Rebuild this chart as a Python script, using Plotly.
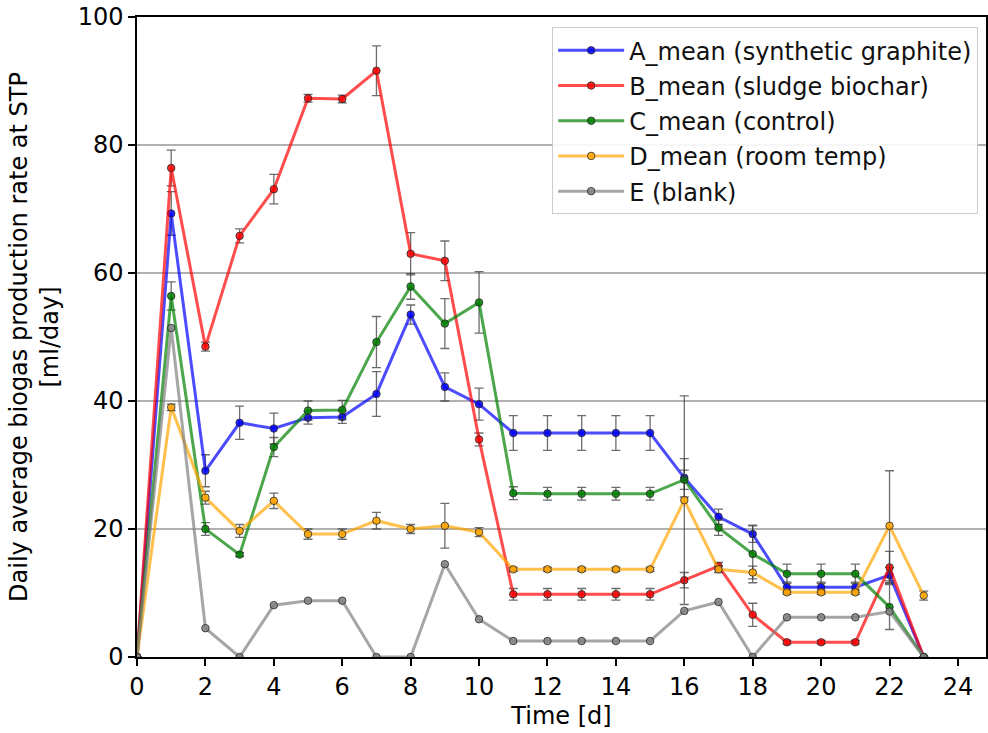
import plotly.graph_objects as go

# Measurement days
days = list(range(24))

# Daily average biogas production rate [ml/day] per reactor group
a_mean = [0, 69.3, 29.1, 36.6, 35.7, 37.4, 37.5, 41.1, 53.5, 42.2, 39.5, 35.0, 35.0, 35.0,
          35.0, 35.0, 28.0, 21.9, 19.2, 10.9, 10.9, 10.9, 12.8, 0]
a_err = [0, 3.4, 2.5, 2.6, 2.4, 1.0, 1.0, 3.5, 1.5, 2.2, 2.5, 2.7, 2.7, 2.7,
         2.7, 2.7, 3.0, 1.2, 1.3, 0.8, 0.8, 0.8, 1.2, 0]

b_mean = [0, 76.4, 48.5, 65.8, 73.1, 87.3, 87.2, 91.6, 63.0, 61.9, 34.0, 9.8, 9.8, 9.8,
          9.8, 9.8, 12.0, 14.2, 6.6, 2.3, 2.3, 2.3, 14.0, 0]
b_err = [0, 2.8, 0.7, 1.1, 2.3, 0.6, 0.6, 3.9, 3.3, 3.1, 1.0, 0.9, 0.9, 0.9,
         0.9, 0.9, 1.2, 0.6, 1.8, 0.3, 0.3, 0.3, 2.5, 0]

c_mean = [0, 56.4, 20.0, 16.0, 32.8, 38.5, 38.6, 49.2, 57.9, 52.1, 55.4, 25.6, 25.5, 25.5,
          25.5, 25.5, 27.7, 20.2, 16.1, 13.0, 13.0, 13.0, 7.8, 0]
c_err = [0, 2.2, 1.0, 0.3, 1.5, 1.5, 1.5, 4.0, 2.0, 3.9, 4.8, 1.0, 1.0, 1.0,
         1.0, 1.0, 1.5, 1.2, 4.5, 1.5, 1.5, 1.5, 3.5, 0]

d_mean = [0, 39.0, 24.9, 19.7, 24.4, 19.2, 19.2, 21.3, 20.0, 20.5, 19.5, 13.7, 13.7, 13.7,
          13.7, 13.7, 24.5, 13.7, 13.2, 10.1, 10.1, 10.1, 20.5, 9.6]
d_err = [0, 0.5, 1.0, 1.0, 1.2, 0.8, 0.8, 1.3, 0.7, 3.5, 0.7, 0.3, 0.3, 0.3,
         0.3, 0.3, 16.3, 0.5, 1.0, 0.3, 0.3, 0.3, 8.6, 0.7]

e_blank = [0, 51.4, 4.5, 0, 8.1, 8.8, 8.8, 0, 0, 14.5, 5.9, 2.5, 2.5, 2.5,
           2.5, 2.5, 7.2, 8.6, 0, 6.2, 6.2, 6.2, 7.1, 0]

series = [
    ("A_mean (synthetic graphite)", a_mean, a_err, (0, 0, 255)),
    ("B_mean (sludge biochar)", b_mean, b_err, (255, 0, 0)),
    ("C_mean (control)", c_mean, c_err, (0, 128, 0)),
    ("D_mean (room temp)", d_mean, d_err, (255, 165, 0)),
    ("E (blank)", e_blank, None, (128, 128, 128)),
]

FONT = "DejaVu Sans"
FS = 24
fig = go.Figure()

for i, (name, vals, errs, (r, g, b)) in enumerate(series):
    err_cfg = None
    if errs is not None:
        err_cfg = dict(type="data", array=errs, visible=True,
                       color="rgba(60,60,60,0.75)", thickness=1.3, width=4.5)
    fig.add_trace(go.Scatter(
        x=days, y=vals, name=name, mode="lines+markers",
        legendgroup=f"g{i}",
        line=dict(color=f"rgba({r},{g},{b},0.7)", width=3),
        marker=dict(size=7.5, color=f"rgba({r},{g},{b},0.85)",
                    line=dict(color="rgba(40,40,40,0.8)", width=1)),
        error_y=err_cfg,
    ))

fig.update_layout(
    width=988, height=733,
    margin=dict(l=137, r=0, t=17, b=76),
    plot_bgcolor="white", paper_bgcolor="white",
    font=dict(family=FONT, size=FS, color="black"),
    showlegend=True,
    legend=dict(
        x=0.489, y=0.984, xanchor="left", yanchor="top",
        bgcolor="rgba(255,255,255,0.9)", bordercolor="#cccccc", borderwidth=1,
        font=dict(family=FONT, size=FS, color="#111111"),
        tracegroupgap=1, itemwidth=66,
    ),
    xaxis=dict(
        range=[0, 24.82], tickmode="array", tickvals=list(range(0, 25, 2)),
        showgrid=False, zeroline=False,
        showline=True, linecolor="black", linewidth=1.5, mirror=True,
        ticks="outside", ticklen=7, tickwidth=1.5, tickcolor="black",
        title=dict(text="Time [d]", font=dict(size=FS), standoff=8),
        tickfont=dict(size=FS),
    ),
    yaxis=dict(
        range=[0, 100], tickmode="array", tickvals=[0, 20, 40, 60, 80, 100],
        showgrid=True, gridcolor="#b0b0b0", gridwidth=1.5, zeroline=False,
        showline=True, linecolor="black", linewidth=1.5, mirror=True,
        ticks="outside", ticklen=7, tickwidth=1.5, tickcolor="black",
        title=dict(text="Daily average biogas production rate at STP<br>[ml/day]",
                   font=dict(size=FS), standoff=12),
        tickfont=dict(size=FS),
    ),
)

fig.write_html("out.html")
